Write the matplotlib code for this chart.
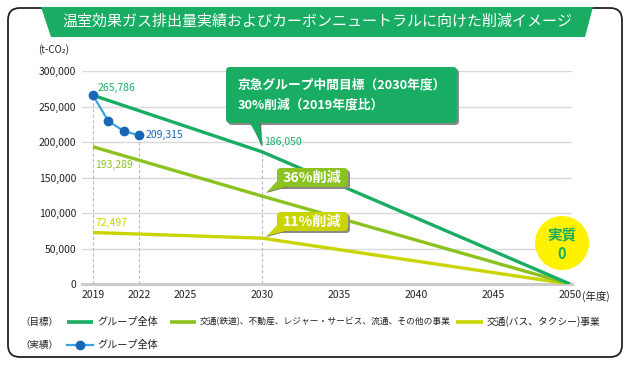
import numpy as np
import matplotlib.pyplot as plt
from matplotlib.patches import FancyBboxPatch, Polygon, Circle

plt.rcParams['font.family'] = ['Noto Sans CJK JP', 'DejaVu Sans']

# data
target_years = [2019, 2030, 2050]
target_group = [265786, 186050, 0]
target_rail = [193289, 123705, 0]
target_bus = [72497, 64522, 0]

actual_years = [2019, 2020, 2021, 2022]
actual_group = [265786, 229200, 215500, 209315]

x_ticks = [2019, 2022, 2025, 2030, 2035, 2040, 2045, 2050]
y_ticks = [0, 50000, 100000, 150000, 200000, 250000, 300000]

title = '温室効果ガス排出量実績およびカーボンニュートラルに向けた削減イメージ'
legend_labels = ['グループ全体', '交通(鉄道)、不動産、レジャー・サービス、流通、その他の事業',
                 '交通(バス、タクシー)事業', 'グループ全体']

# colours
GREEN = '#18ad62'
LGREEN = '#8cc21f'
YELLOW = '#c9d400'
BLUE_LINE = '#3ba3e3'
BLUE_DOT = '#1767b8'

W, H = 630, 368
fig = plt.figure(figsize=(W / 100, H / 100), dpi=100)

# main chart axes, placed in pixel terms
ax = fig.add_axes([82 / W, (H - 284) / H, 490 / W, 213 / H])
ax.set_xlim(2019 - 11 / 15.39, 2050 + 2 / 15.39)
ax.set_ylim(0, 300000)
for s in ax.spines.values():
    s.set_visible(False)
ax.set_yticks(y_ticks)
ax.set_yticklabels([f'{v:,}' for v in y_ticks])
ax.set_xticks(x_ticks)
ax.set_xticklabels([str(v) for v in x_ticks])
ax.tick_params(length=0, labelsize=7.5, colors='#222222')
ax.tick_params(axis='y', pad=4)
ax.tick_params(axis='x', pad=4)
for v in y_ticks[1:]:
    ax.axhline(v, color='#d8d8d8', lw=1, zorder=1)
ax.axhline(0, color='#cccccc', lw=2.2, zorder=1, clip_on=False)

# dashed drop lines
ax.vlines([2019, 2022, 2030], 0, [actual_group[0], actual_group[-1], target_group[1]],
          colors='#bbbbbb', linestyles=(0, (3, 2)), lw=0.8, zorder=1)

ax.plot(target_years, target_bus, color=YELLOW, lw=2.4, zorder=3, solid_capstyle='butt')
ax.plot(target_years, target_rail, color=LGREEN, lw=2.4, zorder=3, solid_capstyle='butt')
ax.plot(target_years, target_group, color=GREEN, lw=2.4, zorder=4, solid_capstyle='butt')
ax.plot(actual_years, actual_group, color=BLUE_LINE, lw=1.6, marker='o', ms=6,
        mfc=BLUE_DOT, mec=BLUE_DOT, zorder=5)

# value labels
def lab(x, y, dx, dy, color, ha='left'):
    ax.annotate(f'{y:,}', (x, y), xytext=(dx, dy), textcoords='offset pixels',
                ha=ha, va='center', fontsize=7.5, color=color, zorder=6)

lab(2019, target_group[0], 5, 7, GREEN)
lab(2022, actual_group[-1], 6, 0, BLUE_DOT)
lab(2019, target_rail[0], 2, -18, LGREEN)
lab(2019, target_bus[0], 2, 10, YELLOW)
lab(2030, target_group[1], 2, 10, GREEN)

# overlay axes in pixel coordinates for decorations
ov = fig.add_axes([0, 0, 1, 1], zorder=10)
ov.set_xlim(0, W)
ov.set_ylim(H, 0)
ov.axis('off')
ov.patch.set_alpha(0)

ov.add_patch(FancyBboxPatch((8, 8), 614, 349, boxstyle='round,pad=0,rounding_size=12',
                            fc='none', ec='#222222', lw=1.3))
ov.add_patch(Polygon([(41, 7), (593, 7), (585, 37), (51, 37)], closed=True, fc=GREEN, ec='none'))
ov.text(317, 22, title, color='white', fontsize=10.8, ha='center', va='center')

ov.text(38, 50, '(t-CO₂)', fontsize=7, ha='left', va='center', color='#222222')
ov.text(582, 296, '(年度)', fontsize=7.5, ha='left', va='center', color='#222222')


def callout(x0, y0, x1, y1, tip, base, color):
    sh = 2
    ov.add_patch(FancyBboxPatch((x0 + sh, y0 + sh), x1 - x0, y1 - y0,
                                boxstyle='round,pad=0,rounding_size=4', fc='#8a8a8a', ec='none'))
    ov.add_patch(Polygon([(base[0] + sh, base[1]), (base[2] + sh, base[3]), (tip[0] - 1, tip[1] + 1)],
                         closed=True, fc='#666666', ec='none'))
    ov.add_patch(FancyBboxPatch((x0, y0), x1 - x0, y1 - y0,
                                boxstyle='round,pad=0,rounding_size=4', fc=color, ec='none'))
    ov.add_patch(Polygon([(base[0], base[1]), (base[2], base[3]), tip], closed=True,
                         fc=color, ec='none'))


callout(226, 67, 457, 123, (263, 146), (247, 118, 259, 118), GREEN)
ov.text(238, 85, '京急グループ中間目標（2030年度）', color='white', fontsize=9.2,
        fontweight='bold', ha='left', va='center')
ov.text(238, 105, '30%削減（2019年度比）', color='white', fontsize=9.2,
        fontweight='bold', ha='left', va='center')

callout(277, 168, 348, 187, (267, 192), (278, 180, 290, 186), LGREEN)
ov.text(312, 177.5, '36%削減', color='white', fontsize=10.2, fontweight='bold',
        ha='center', va='center')

callout(277, 212, 348, 231, (267, 236), (278, 224, 290, 230), YELLOW)
ov.text(312, 221.5, '11%削減', color='white', fontsize=10.2, fontweight='bold',
        ha='center', va='center')

ov.add_patch(Circle((562, 243), 27, fc='#fff200', ec='none'))
ov.text(562, 234, '実質', color=GREEN, fontsize=10.5, fontweight='bold', ha='center', va='center')
ov.text(562, 254, '0', color=GREEN, fontsize=10.5, fontweight='bold', ha='center', va='center')

# legend
ov.text(20, 322, '（目標）', fontsize=6.8, ha='left', va='center', color='#222222')
ov.text(20, 345, '（実績）', fontsize=6.8, ha='left', va='center', color='#222222')
ov.plot([67, 93], [322, 322], color=GREEN, lw=2.6, solid_capstyle='butt')
ov.plot([170, 196], [322, 322], color=LGREEN, lw=2.6, solid_capstyle='butt')
ov.plot([456, 483], [322, 322], color=YELLOW, lw=2.6, solid_capstyle='butt')
ov.plot([67, 93], [345, 345], color=BLUE_LINE, lw=1.6)
ov.plot([80], [345], marker='o', ms=6, color=BLUE_DOT)
ov.text(97, 322, legend_labels[0], fontsize=7.3, ha='left', va='center', color='#222222')
ov.text(200, 322, legend_labels[1], fontsize=6.3, ha='left', va='center', color='#222222')
ov.text(487, 322, legend_labels[2], fontsize=7.0, ha='left', va='center', color='#222222')
ov.text(97, 345, legend_labels[3], fontsize=7.3, ha='left', va='center', color='#222222')

fig.savefig('out.png', dpi=100)
